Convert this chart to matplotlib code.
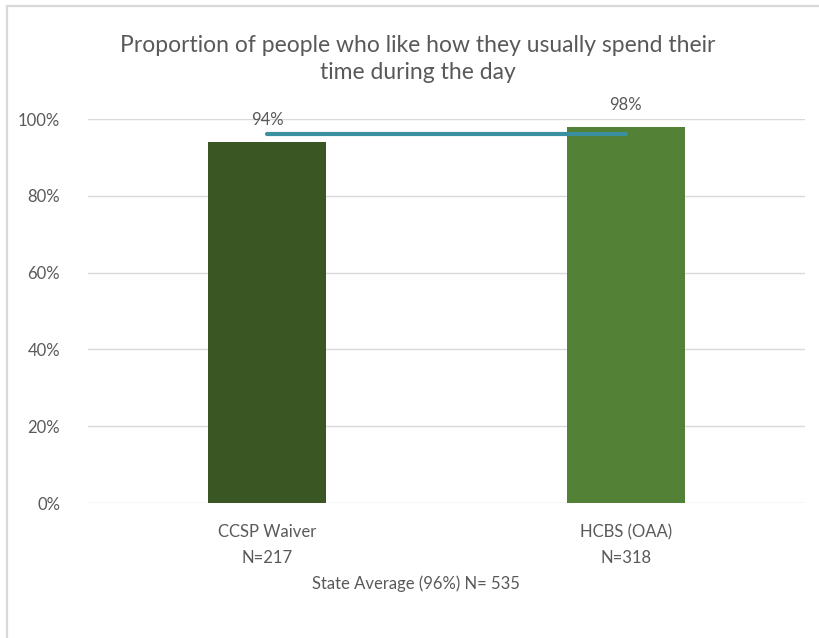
import matplotlib
matplotlib.use("Agg")
import matplotlib.pyplot as plt
from matplotlib.patches import Rectangle

# chart data
categories = ["CCSP Waiver\nN=217", "HCBS (OAA)\nN=318"]
values = [94, 98]
value_labels = ["94%", "98%"]
state_average = 96
state_label = "State Average (96%) N= 535"
title = "Proportion of people who like how they usually spend their\ntime during the day"
y_ticks = [0, 20, 40, 60, 80, 100]
bar_colors = ["#3A5723", "#538135"]

plt.rcParams['font.family'] = ['Lato', 'DejaVu Sans']
text_color = "#595959"

W, H = 820, 638
fig = plt.figure(figsize=(W / 100, H / 100), dpi=100)

# light frame around the chart like the Excel chart area
fig.patches.append(Rectangle((7 / W, -0.01), 1.0, 1 - 6 / H + 0.01, transform=fig.transFigure,
                             fill=False, edgecolor="#D9D9D9", linewidth=1.6))

ax = fig.add_axes([88 / W, (H - 503) / H, (805 - 88) / W, (503 - 119) / H])
x = list(range(len(categories)))
ax.bar(x, values, width=0.33, color=bar_colors, zorder=2)

for xi, v, lab in zip(x, values, value_labels):
    ax.annotate(lab, (xi, v), xytext=(0, 10), textcoords="offset points",
                ha="center", va="bottom", fontsize=12, color=text_color,
                annotation_clip=False)

ax.plot(x, [state_average] * len(x), color="#3A8FA0", linewidth=3,
        solid_capstyle="round", zorder=3, clip_on=False)

ax.set_xlim(-0.5, 1.5)
ax.set_ylim(0, 100)
ax.set_yticks(y_ticks)
ax.set_yticklabels([f"{t}%" for t in y_ticks])
ax.yaxis.grid(True, color="#D9D9D9", linewidth=1)
ax.set_axisbelow(True)
ax.set_xticks(x)
ax.set_xticklabels(categories, linespacing=1.75)
ax.tick_params(axis="both", length=0, labelsize=12, labelcolor=text_color)
ax.tick_params(axis="y", pad=20)
ax.tick_params(axis="x", pad=15)
for s in ax.spines.values():
    s.set_visible(False)

fig.text(416 / W, 1 - 584 / H, state_label, ha="center", va="center",
         fontsize=12, color=text_color)
fig.text(418 / W, 1 - 59 / H, title, ha="center", va="center",
         fontsize=16.5, color=text_color, linespacing=1.3)

fig.savefig("out.png", dpi=100)
